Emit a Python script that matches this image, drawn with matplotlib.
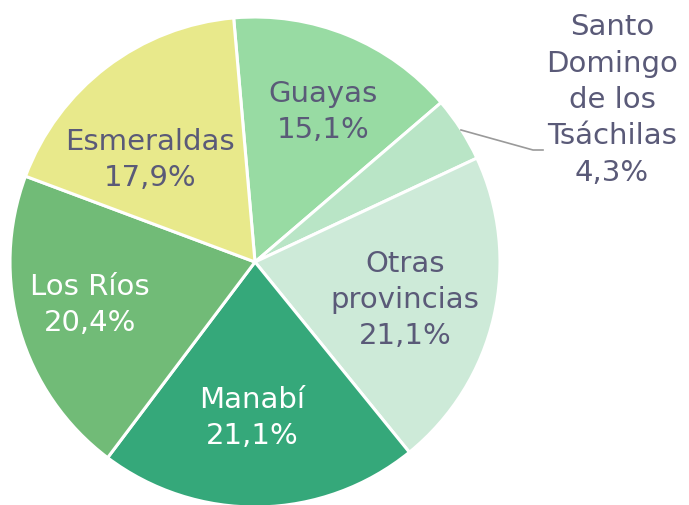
import matplotlib
matplotlib.use('Agg')
import matplotlib.pyplot as plt

# slice data, clockwise from the top
labels = ["Guayas", "Santo\nDomingo\nde los\nTsáchilas", "Otras\nprovincias",
          "Manabí", "Los Ríos", "Esmeraldas"]
shares = [15.1, 4.3, 21.1, 21.1, 20.4, 17.9]
colors = ["#98DBA3", "#B9E5C6", "#CDEAD8", "#35A87A", "#71BB77", "#E8E98B"]
text_colors = ["#5A5A78", "#5A5A78", "#5A5A78", "white", "white", "#5A5A78"]

plt.rcParams['font.family'] = ['DejaVu Sans']

fig = plt.figure(figsize=(6.89, 5.05), dpi=100)
ax = fig.add_axes([0, 0, 1, 1])

cx, cy, r = 255, 243, 245
wedges, _ = ax.pie(shares, colors=colors, startangle=95, counterclock=False,
                   center=(cx, cy), radius=r, frame=True,
                   wedgeprops=dict(edgecolor='white', linewidth=2.2))
ax.set_xlim(0, 689)
ax.set_ylim(0, 505)
ax.set_aspect('equal')
ax.axis('off')

# label positions (pixel coords, y from top)
label_pos = [(323, 112), (612, 100), (405, 300), (252, 418), (90, 305), (150, 160)]

for lab, val, (x, y), tc in zip(labels, shares, label_pos, text_colors):
    txt = f"{lab}\n{val:.1f}%".replace('.', ',')
    ax.text(x, 505 - y, txt, ha='center', va='center', fontsize=21,
            color=tc, linespacing=1.38)

# leader line for Santo Domingo
ax.plot([461, 533, 543], [505 - 130, 505 - 150, 505 - 150], color='#9A9A9A', lw=1.2)

fig.savefig("out.png", dpi=100)
